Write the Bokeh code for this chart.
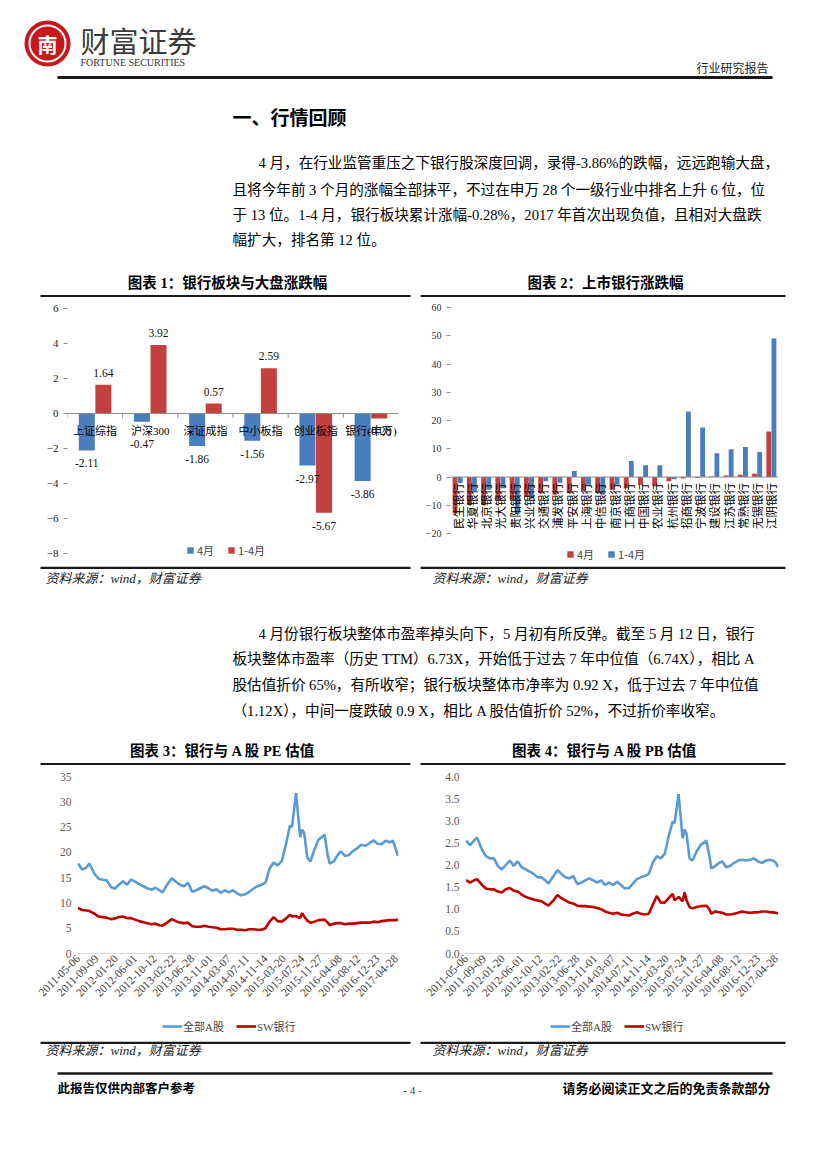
import math
import pandas as pd
from bokeh.plotting import figure
from bokeh.models import (Range1d, FactorRange, Legend, LegendItem, FixedTicker,
                          DatetimeTickFormatter, Span, ColumnDataSource, PrintfTickFormatter)
from bokeh.layouts import column, row
from bokeh.core.properties import value
from bokeh.transform import dodge
from bokeh.embed import file_html
from bokeh.resources import INLINE

CJK = "Noto Sans CJK SC"
SERIF = "Liberation Serif"
MIX = "Liberation Serif, Noto Sans CJK SC"

# ---------------- data ----------------
# Chart 1: index performance (%)
idx_names = ["上证综指", "沪深300", "深证成指", "中小板指", "创业板指", "银行(申万)"]
idx_apr = [-2.11, -0.47, -1.86, -1.56, -2.97, -3.86]      # 4月
idx_ytd = [1.64, 3.92, 0.57, 2.59, -5.67, -0.28]          # 1-4月

# Chart 2: listed banks (%)
bank_names = ["民生银行", "华夏银行", "北京银行", "光大银行", "贵阳银行", "兴业银行",
              "交通银行", "浦发银行", "平安银行", "上海银行", "中信银行", "南京银行",
              "工商银行", "中国银行", "农业银行", "杭州银行", "招商银行", "宁波银行",
              "建设银行", "江苏银行", "常熟银行", "无锡银行", "江阴银行"]
bank_apr = [-12.9, -9.9, -10.0, -8.0, -8.0, -7.0, -5.7, -6.3, -5.7, -5.0, -5.7, -4.5,
            -4.0, -2.7, -3.3, -1.5, -0.5, -0.3, 0.2, 0.5, 0.8, 1.2, 16.1]
bank_ytd = [-2.1, -5.0, -4.5, -4.0, -13.0, -7.5, -1.5, -2.0, 2.1, -2.7, -6.3, -2.7,
            5.7, 4.2, 4.2, -0.8, 23.2, 17.5, 8.4, 9.8, 10.6, 8.9, 49.0]

# Charts 3/4: valuation series
val_dates = [
    "2011-05-06", "2011-06-03", "2011-07-01", "2011-07-22", "2011-08-26", "2011-09-23", "2011-10-21", "2011-11-18", "2011-12-16",
    "2012-01-13", "2012-02-10", "2012-03-09", "2012-04-06", "2012-05-04", "2012-06-01", "2012-06-29", "2012-07-27", "2012-08-24",
    "2012-09-21", "2012-10-19", "2012-11-16", "2012-12-07",
    "2013-01-11", "2013-02-08", "2013-03-08", "2013-04-05", "2013-05-03", "2013-05-31", "2013-06-28", "2013-07-26", "2013-08-23",
    "2013-09-20", "2013-10-18", "2013-11-15", "2013-12-13",
    "2014-01-10", "2014-02-07", "2014-03-07", "2014-04-04", "2014-05-02", "2014-05-30", "2014-06-27", "2014-07-25", "2014-08-22",
    "2014-09-19", "2014-10-17", "2014-11-14", "2014-12-12",
    "2015-01-09", "2015-02-06", "2015-03-06", "2015-04-03", "2015-05-01", "2015-05-15", "2015-06-12", "2015-07-10", "2015-07-24",
    "2015-08-07", "2015-08-28", "2015-09-18", "2015-10-16", "2015-11-13", "2015-12-25",
    "2016-01-15", "2016-01-29", "2016-02-26", "2016-03-25", "2016-04-15", "2016-05-13", "2016-06-10", "2016-07-08", "2016-08-05",
    "2016-09-02", "2016-09-30", "2016-10-28", "2016-11-25", "2016-12-23",
    "2017-01-20", "2017-02-17", "2017-03-17", "2017-04-07", "2017-04-28", "2017-05-12"]
pe_all_a = [17.8, 16.6, 17.0, 17.8, 15.8, 14.8, 14.6, 14.5, 13.2,
            12.8, 13.6, 14.3, 13.6, 14.6, 14.2, 13.7, 13.3, 12.9, 12.6, 13.0, 12.5, 12.1,
            13.8, 14.9, 14.2, 13.6, 13.3, 14.0, 12.2, 12.5, 12.9, 13.3, 12.9, 12.4, 12.7,
            12.0, 12.5, 12.1, 12.5, 11.9, 11.5, 11.7, 12.2, 12.8, 13.3, 13.6, 14.0, 16.8,
            18.0, 17.4, 18.3, 21.5, 25.3, 25.0, 31.7, 23.0, 24.5, 23.8, 19.0, 18.2, 20.5, 22.5, 23.5,
            19.5, 17.8, 18.2, 19.5, 20.2, 19.3, 19.5, 20.3, 20.8, 21.5, 21.3, 21.8, 22.4, 21.7,
            21.6, 22.3, 22.0, 22.3, 20.6, 19.3]
pe_bank = [9.0, 8.6, 8.5, 8.4, 7.9, 7.3, 7.2, 7.1, 6.8,
           6.9, 7.2, 7.3, 7.0, 7.0, 6.7, 6.4, 6.2, 6.0, 5.8, 5.9, 5.6, 5.5,
           6.2, 6.8, 6.4, 6.1, 6.0, 6.1, 5.4, 5.3, 5.3, 5.5, 5.3, 5.2, 5.1,
           4.8, 4.8, 4.9, 4.9, 4.7, 4.7, 4.6, 4.8, 4.8, 4.7, 4.7, 5.0, 6.3,
           7.2, 6.4, 6.3, 6.9, 7.7, 7.3, 7.4, 7.0, 8.0, 7.3, 6.5, 6.1, 6.3, 6.6, 6.7,
           6.1, 5.6, 5.9, 6.0, 6.0, 5.8, 5.9, 5.9, 6.0, 6.1, 6.1, 6.1, 6.3, 6.2,
           6.4, 6.5, 6.6, 6.6, 6.6, 6.7]
pb_all_a = [2.55, 2.45, 2.55, 2.62, 2.35, 2.2, 2.15, 2.15, 1.98,
            1.9, 2.0, 2.1, 1.98, 2.08, 1.95, 1.9, 1.85, 1.8, 1.72, 1.72, 1.65, 1.58,
            1.75, 1.88, 1.8, 1.72, 1.7, 1.75, 1.57, 1.6, 1.65, 1.7, 1.65, 1.6, 1.65,
            1.55, 1.6, 1.55, 1.62, 1.55, 1.47, 1.48, 1.58, 1.68, 1.72, 1.75, 1.8, 2.05,
            2.2, 2.15, 2.25, 2.65, 2.98, 2.95, 3.6, 2.6, 2.8, 2.7, 2.15, 2.1, 2.3, 2.45, 2.55,
            2.2, 1.92, 1.98, 2.05, 2.08, 1.95, 1.98, 2.05, 2.1, 2.12, 2.1, 2.12, 2.15, 2.08,
            2.05, 2.1, 2.12, 2.1, 2.05, 1.95]
pb_bank = [1.66, 1.6, 1.65, 1.68, 1.55, 1.47, 1.45, 1.45, 1.4,
           1.38, 1.45, 1.48, 1.42, 1.4, 1.33, 1.28, 1.25, 1.22, 1.2, 1.18, 1.12, 1.08,
           1.2, 1.32, 1.25, 1.2, 1.15, 1.13, 1.08, 1.07, 1.07, 1.06, 1.05, 1.03, 1.0,
           0.95, 0.92, 0.9, 0.92, 0.88, 0.87, 0.86, 0.9, 0.93, 0.9, 0.88, 0.9, 1.1,
           1.3, 1.15, 1.15, 1.25, 1.35, 1.2, 1.28, 1.18, 1.38, 1.2, 1.05, 1.02, 1.05, 1.07, 1.08,
           1.0, 0.9, 0.95, 0.93, 0.92, 0.88, 0.88, 0.9, 0.92, 0.95, 0.93, 0.92, 0.93, 0.93,
           0.95, 0.95, 0.93, 0.93, 0.92, 0.9]
date_ticks = ["2011-05-06", "2011-09-09", "2012-01-20", "2012-06-01", "2012-10-12", "2013-02-22",
              "2013-06-28", "2013-11-01", "2014-03-07", "2014-07-11", "2014-11-14", "2015-03-20",
              "2015-07-24", "2015-11-27", "2016-04-08", "2016-08-12", "2016-12-23", "2017-04-28"]
series_names = ["全部A股", "SW银行"]

BLUE1, RED1 = "#4A7DBE", "#C2413E"
BLUE2, RED2 = "#5B9BD5", "#C00000"
DARK = "#1a1a1a"
PAGE_W = 827


# ---------------- helpers ----------------
def blank(width, y0, y1, x0=0):
    p = figure(width=width, height=y1 - y0, x_range=Range1d(x0, x0 + width), y_range=Range1d(y1, y0),
               output_backend="svg", toolbar_location=None,
               x_axis_location=None, y_axis_location=None,
               min_border_left=0, min_border_right=0, min_border_top=0, min_border_bottom=0)
    p.grid.visible = False
    p.outline_line_color = None
    return p


def deco(y0, y1):
    return blank(PAGE_W, y0, y1)


def t(p, x, y, s, size, font=MIX, color="#000000", align="left", style="normal", baseline="middle"):
    p.text(x=[x], y=[y], text=[s], text_font=value(font), text_font_size=f"{size}px",
           text_color=color, text_align=align, text_baseline=baseline, text_font_style=style)


def hl(p, x0, x1, y, w=2.5, color=DARK):
    p.segment(x0=[x0], y0=[y], x1=[x1], y1=[y], line_width=w, line_color=color)


def style_chart(p):
    p.grid.visible = False
    p.outline_line_color = None


def bar_legend(items, loc):
    return Legend(items=items, orientation="horizontal", location=loc, label_text_font=CJK,
                  label_text_font_size="11px", glyph_width=8, glyph_height=8, label_height=12,
                  label_standoff=3, spacing=10, padding=0, margin=0,
                  border_line_color=None, background_fill_alpha=0)


# ---------------- top block (page y 0..297) ----------------
top = deco(0, 297)
top.circle(x=[47], y=[43], radius=23, fill_color="#C8161D", line_color=None)
top.circle(x=[47], y=[43], radius=18, fill_color=None, line_color="white", line_width=2)
t(top, 47, 44, "南", 20, font=CJK, color="white", align="center", style="bold")
t(top, 80, 39, "财富证券", 29, font=CJK, color="#3a3a3a")
t(top, 80, 62, "FORTUNE SECURITIES", 10, font=SERIF, color="#333333")
t(top, 768, 67, "行业研究报告", 12, font=CJK, color="#222222", align="right")
hl(top, 57, 772, 77, w=3)
t(top, 232, 116, "一、行情回顾", 19, font=CJK, style="bold")
para1 = [(258, 162, "4 月，在行业监管重压之下银行股深度回调，录得-3.86%的跌幅，远远跑输大盘，"),
         (232, 189, "且将今年前 3 个月的涨幅全部抹平，不过在申万 28 个一级行业中排名上升 6 位，位"),
         (232, 214, "于 13 位。1-4 月，银行板块累计涨幅-0.28%，2017 年首次出现负值，且相对大盘跌"),
         (232, 239, "幅扩大，排名第 12 位。")]
for x, y, s in para1:
    t(top, x, y, s, 14.6)
t(top, 227, 282, "图表 1：银行板块与大盘涨跌幅", 14.5, style="bold", align="center")
t(top, 605, 282, "图表 2：上市银行涨跌幅", 14.5, style="bold", align="center")
hl(top, 40, 410, 295.8)
hl(top, 420, 785, 295.8)

# ---------------- chart 1 (page x 0..414, y 297..566) ----------------
src1 = ColumnDataSource(dict(
    cat=idx_names, apr=idx_apr, ytd=idx_ytd,
    apr_lbl=[f"{v:.2f}" for v in idx_apr], ytd_lbl=[f"{v:.2f}" for v in idx_ytd],
    apr_off=[(13 if v < -1 else 22) for v in idx_apr],
    ytd_off=[(13 if v < 0 else -12) for v in idx_ytd]))
p1 = figure(width=414, height=269, x_range=FactorRange(factors=idx_names), y_range=Range1d(-8.57, 6.06),
            output_backend="svg", toolbar_location=None, x_axis_location=None,
            min_border_left=67, min_border_right=16, min_border_top=10, min_border_bottom=3)
style_chart(p1)
p1.add_layout(Span(location=0, dimension="width", line_color="#8C8C8C", line_width=1))
rb1 = p1.vbar(x=dodge("cat", -0.15, range=p1.x_range), top="apr", width=0.29, source=src1,
              fill_color=BLUE1, line_color=None)
rr1 = p1.vbar(x=dodge("cat", 0.15, range=p1.x_range), top="ytd", width=0.29, source=src1,
              fill_color=RED1, line_color=None)
p1.segment(x0=dodge("cat", -0.5, range=p1.x_range), x1=dodge("cat", -0.5, range=p1.x_range),
           y0=0, y1=-0.25, source=src1, line_color="#8C8C8C", line_width=1)
p1.text(x=dodge("cat", -0.15, range=p1.x_range), y="apr", text="apr_lbl", y_offset="apr_off",
        source=src1, text_font=value(SERIF), text_font_size="11.5px", text_align="center",
        text_baseline="middle", text_color="#111111")
p1.text(x=dodge("cat", 0.15, range=p1.x_range), y="ytd", text="ytd_lbl", y_offset="ytd_off",
        source=src1, text_font=value(SERIF), text_font_size="11.5px", text_align="center",
        text_baseline="middle", text_color="#111111")
p1.text(x="cat", y=0, text="cat", y_offset=17, source=src1, text_font=value(MIX),
        text_font_size="11px", text_align="center", text_baseline="middle", text_color="#000000")
p1.yaxis.ticker = FixedTicker(ticks=[-8, -6, -4, -2, 0, 2, 4, 6])
p1.yaxis.axis_line_color = None
p1.yaxis.major_tick_line_color = "#8C8C8C"
p1.yaxis.major_tick_out = 4
p1.yaxis.major_tick_in = 0
p1.yaxis.minor_tick_line_color = None
p1.yaxis.major_label_text_font = SERIF
p1.yaxis.major_label_text_font_size = "11px"
p1.yaxis.major_label_text_color = "#222222"
p1.add_layout(bar_legend([LegendItem(label="4月", renderers=[rb1]),
                          LegendItem(label="1-4月", renderers=[rr1])], (119, 5)))

# ---------------- chart 2 (page x 414..827, y 297..566) ----------------
src2 = ColumnDataSource(dict(cat=bank_names, apr=bank_apr, ytd=bank_ytd))
p2 = figure(width=413, height=269, x_range=FactorRange(factors=bank_names), y_range=Range1d(-30.6, 60),
            output_backend="svg", toolbar_location=None, x_axis_location=None,
            min_border_left=36, min_border_right=49, min_border_top=10, min_border_bottom=3)
style_chart(p2)
p2.add_layout(Span(location=0, dimension="width", line_color="#8C8C8C", line_width=1))
rr2 = p2.vbar(x=dodge("cat", -0.18, range=p2.x_range), top="apr", width=0.34, source=src2,
              fill_color=RED1, line_color=None)
rb2 = p2.vbar(x=dodge("cat", 0.18, range=p2.x_range), top="ytd", width=0.34, source=src2,
              fill_color=BLUE1, line_color=None)
p2.text(x="cat", y=0, text="cat", y_offset=6, angle=math.pi / 2, source=src2,
        text_font=value(CJK), text_font_size="11.5px", text_align="right",
        text_baseline="middle", text_color="#000000")
p2.yaxis.ticker = FixedTicker(ticks=[-20, -10, 0, 10, 20, 30, 40, 50, 60])
p2.yaxis.axis_line_color = None
p2.yaxis.major_tick_line_color = "#8C8C8C"
p2.yaxis.major_tick_out = 4
p2.yaxis.major_tick_in = 0
p2.yaxis.minor_tick_line_color = None
p2.yaxis.major_label_text_font = SERIF
p2.yaxis.major_label_text_font_size = "10px"
p2.yaxis.major_label_text_color = "#333333"
p2.add_layout(bar_legend([LegendItem(label="4月", renderers=[rr2]),
                          LegendItem(label="1-4月", renderers=[rb2])], (116, 1)))

# ---------------- middle block (page y 566..765) ----------------
mid = deco(566, 765)
hl(mid, 40, 410, 567.2)
hl(mid, 420, 785, 567.2)
t(mid, 45, 578, "资料来源：wind，财富证券", 13, style="italic", color="#222222")
t(mid, 432, 578, "资料来源：wind，财富证券", 13, style="italic", color="#222222")
para2 = [(258, 633, "4 月份银行板块整体市盈率掉头向下，5 月初有所反弹。截至 5 月 12 日，银行"),
         (232, 658, "板块整体市盈率（历史 TTM）6.73X，开始低于过去 7 年中位值（6.74X），相比 A"),
         (232, 684, "股估值折价 65%，有所收窄；银行板块整体市净率为 0.92 X，低于过去 7 年中位值"),
         (232, 710, "（1.12X），中间一度跌破 0.9 X，相比 A 股估值折价 52%，不过折价率收窄。")]
for x, y, s in para2:
    t(mid, x, y, s, 14.6)
t(mid, 222, 750, "图表 3：银行与 A 股 PE 估值", 14.5, style="bold", align="center")
t(mid, 604, 750, "图表 4：银行与 A 股 PB 估值", 14.5, style="bold", align="center")
hl(mid, 40, 410, 763.8)
hl(mid, 420, 785, 763.8)

# ---------------- charts 3/4 (page y 765..1013) ----------------
dts = pd.to_datetime(val_dates)
tick_ms = [pd.Timestamp(d).timestamp() * 1000 for d in date_ticks]
x_start, x_end = pd.Timestamp("2011-05-02"), pd.Timestamp("2017-05-16")
fmt = "%Y-%m-%d"


def val_chart(width, lb, rb, ymax, yticks, s_all, s_bank):
    p = figure(width=width, height=248, x_axis_type="datetime", x_range=Range1d(x_start, x_end),
               y_range=Range1d(0, ymax), output_backend="svg", toolbar_location=None,
               min_border_left=lb, min_border_right=rb, min_border_top=11, min_border_bottom=60)
    style_chart(p)
    p.line(x=dts, y=s_all, line_color=BLUE2, line_width=2.6)
    p.line(x=dts, y=s_bank, line_color=RED2, line_width=2.6)
    p.xaxis.ticker = FixedTicker(ticks=tick_ms)
    p.xaxis.formatter = DatetimeTickFormatter(days=fmt, months=fmt, years=fmt, hours=fmt,
                                              hourmin=fmt, minutes=fmt, minsec=fmt, seconds=fmt,
                                              milliseconds=fmt, microseconds=fmt)
    p.xaxis.major_label_orientation = math.pi / 4
    p.xaxis.axis_line_color = "#D9D9D9"
    p.xaxis.major_tick_line_color = None
    p.xaxis.minor_tick_line_color = None
    p.xaxis.major_tick_out = 0
    p.xaxis.major_label_text_font = SERIF
    p.xaxis.major_label_text_font_size = "11.5px"
    p.xaxis.major_label_text_color = "#404040"
    p.xaxis.major_label_standoff = 3
    p.yaxis.ticker = FixedTicker(ticks=yticks)
    p.yaxis.axis_line_color = None
    p.yaxis.major_tick_line_color = None
    p.yaxis.minor_tick_line_color = None
    p.yaxis.major_tick_out = 0
    p.yaxis.major_label_text_font = SERIF
    p.yaxis.major_label_text_font_size = "11.5px"
    p.yaxis.major_label_text_color = "#595959"
    p.yaxis.major_label_standoff = 6
    return p


def line_legend_strip(width, x0, legx, s_all, s_bank):
    # legend strip under a valuation chart (page y 1013..1041); the series lie far outside its ranges
    p = blank(width, 1013, 1041, x0=x0)
    la = p.line(x=dts, y=s_all, line_color=BLUE2, line_width=2.6)
    lb = p.line(x=dts, y=s_bank, line_color=RED2, line_width=2.6)
    leg = Legend(items=[LegendItem(label=series_names[0], renderers=[la]),
                        LegendItem(label=series_names[1], renderers=[lb])],
                 orientation="horizontal", location=(legx, 7), label_text_font=MIX,
                 label_text_font_size="11px", glyph_width=20, glyph_height=12, label_height=14,
                 label_standoff=1, spacing=12, padding=0, margin=0,
                 border_line_color=None, background_fill_alpha=0)
    p.add_layout(leg)
    return p


p3 = val_chart(414, 77, 16, 35, [0, 5, 10, 15, 20, 25, 30, 35], pe_all_a, pe_bank)
p4 = val_chart(413, 51, 49, 4.0, [0, 0.5, 1.0, 1.5, 2.0, 2.5, 3.0, 3.5, 4.0], pb_all_a, pb_bank)
p4.yaxis.formatter = PrintfTickFormatter(format="%.1f")
lg3 = line_legend_strip(414, 0, 162, pe_all_a, pe_bank)
lg4 = line_legend_strip(413, 414, 136, pb_all_a, pb_bank)

# ---------------- footer (page y 1041..1166) ----------------
foot = deco(1041, 1166)
hl(foot, 40, 410, 1042.2)
hl(foot, 420, 785, 1042.2)
t(foot, 45, 1050, "资料来源：wind，财富证券", 13, style="italic", color="#222222")
t(foot, 432, 1050, "资料来源：wind，财富证券", 13, style="italic", color="#222222")
hl(foot, 57, 772, 1073, w=2.5)
t(foot, 57, 1087, "此报告仅供内部客户参考", 12.5, font=CJK, style="bold")
t(foot, 412, 1089, "- 4 -", 11, font=SERIF, align="center", color="#333333")
t(foot, 770, 1087, "请务必阅读正文之后的免责条款部分", 13, font=CJK, style="bold", align="right")

page = column(top, row(p1, p2), mid, row(p3, p4), row(lg3, lg4), foot)
open("out.html", "w").write(file_html(page, INLINE))
